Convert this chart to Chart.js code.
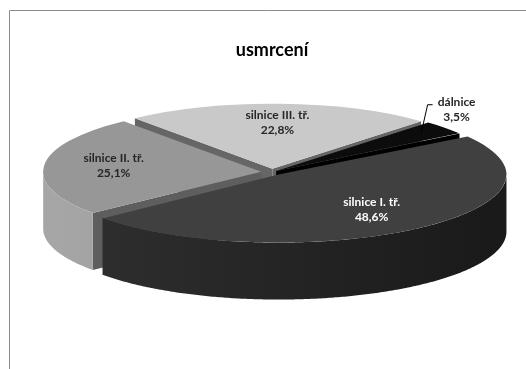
<!DOCTYPE html>
<html lang="cs">
<head>
<meta charset="UTF-8" />
<title>usmrcení</title>
<style>
  html, body { margin: 0; padding: 0; background: #ffffff; }
  #wrap { width: 526px; height: 369px; }
</style>
<script src="https://cdn.jsdelivr.net/npm/chart.js"></script>
</head>
<body>
<div id="wrap"><canvas id="pie" width="526" height="369"></canvas></div>
<script>
// data
const categories = ["dálnice", "silnice I. tř.", "silnice II. tř.", "silnice III. tř."];
const shares = [3.5, 48.6, 25.1, 22.8];

// greys for top face, outer wall (left -> right), cut faces and label text
const topColors = ["#0c0c0c", "#404040", "#979797", "#c9c9c9"];
const wallColors = [["#1c1c1c", "#050505"], ["#303030", "#1a1a1a"], ["#a6a6a6", "#8c8c8c"], ["#bdbdbd", "#a8a8a8"]];
const sideColors = ["#000000", "#262626", "#5e5e5e", "#666666"];
const labelColors = ["#262626", "#ffffff", "#262626", "#262626"];
const explode = [14, 28, 28, 28];

// where the flattened 3d pie sits on the page
const PIE = { cx: 272, cy: 172, rx: 218, ry: 65, depth: 57 };

function fmtPct(v) {
  return v.toFixed(1).replace(".", ",") + "%";
}

// map a slice (as laid out by chart.js) onto the squashed page ellipse
function sliceGeom(chart, arc) {
  const first = chart.getDatasetMeta(0).data[0];
  const sx = PIE.rx / first.outerRadius;
  const sy = PIE.ry / first.outerRadius;
  const off = (arc.options.offset || 0) / 4;
  const half = (arc.startAngle + arc.endAngle) / 2;
  const circ = arc.endAngle - arc.startAngle;
  const r = arc.outerRadius + off * (1 - Math.sin(Math.min(Math.PI, circ)));
  const ox = arc.x + Math.cos(half) * off;
  const oy = arc.y + Math.sin(half) * off;
  const at = (t, rr) => [
    PIE.cx + (ox + rr * Math.cos(t) - first.x) * sx,
    PIE.cy + (oy + rr * Math.sin(t) - first.y) * sy
  ];
  return { at, r, half, s: arc.startAngle, e: arc.endAngle };
}

const frame = {
  id: "frame",
  beforeDraw(chart) {
    const ctx = chart.ctx;
    ctx.save();
    ctx.strokeStyle = "#8c8c8c";
    ctx.lineWidth = 1;
    ctx.beginPath();
    ctx.moveTo(9.5, chart.height);
    ctx.lineTo(9.5, 10.5);
    ctx.lineTo(chart.width, 10.5);
    ctx.stroke();
    ctx.restore();
  }
};

// side walls and cut faces, drawn back to front before the top faces
const depth = {
  id: "depth",
  beforeDatasetsDraw(chart) {
    const ctx = chart.ctx;
    const d = PIE.depth;
    const items = chart.getDatasetMeta(0).data.map((arc, i) => ({ i, g: sliceGeom(chart, arc) }));
    items.sort((a, b) => Math.sin(a.g.half) - Math.sin(b.g.half));
    ctx.save();
    items.forEach(({ i, g }) => {
      const faces = [];
      if (Math.cos(g.s) < 0) faces.push(g.s);
      if (Math.cos(g.e) > 0) faces.push(g.e);
      faces.forEach(t => {
        const c = g.at(t, 0);
        const p = g.at(t, g.r);
        ctx.beginPath();
        ctx.moveTo(c[0], c[1]);
        ctx.lineTo(p[0], p[1]);
        ctx.lineTo(p[0], p[1] + d);
        ctx.lineTo(c[0], c[1] + d);
        ctx.closePath();
        ctx.fillStyle = sideColors[i];
        ctx.fill();
      });
      const TAU = Math.PI * 2;
      for (let k = Math.floor(g.s / TAU) - 1; k <= Math.ceil(g.e / TAU); k++) {
        const a1 = Math.max(g.s, k * TAU);
        const a2 = Math.min(g.e, k * TAU + Math.PI);
        if (a2 <= a1) continue;
        const n = Math.max(2, Math.ceil((a2 - a1) / 0.01));
        const top = [];
        for (let j = 0; j <= n; j++) top.push(g.at(a1 + (a2 - a1) * j / n, g.r));
        ctx.beginPath();
        top.forEach((p, j) => (j ? ctx.lineTo(p[0], p[1]) : ctx.moveTo(p[0], p[1])));
        for (let j = top.length - 1; j >= 0; j--) ctx.lineTo(top[j][0], top[j][1] + d);
        ctx.closePath();
        const grad = ctx.createLinearGradient(PIE.cx - PIE.rx, 0, PIE.cx + PIE.rx, 0);
        grad.addColorStop(0, wallColors[i][0]);
        grad.addColorStop(1, wallColors[i][1]);
        ctx.fillStyle = grad;
        ctx.fill();
      }
    });
    ctx.restore();
  }
};

// squash the pie chart.js draws into the page ellipse
const squash = {
  id: "squash",
  beforeDatasetDraw(chart) {
    const ctx = chart.ctx;
    const first = chart.getDatasetMeta(0).data[0];
    ctx.save();
    ctx.translate(PIE.cx, PIE.cy);
    ctx.scale(PIE.rx / first.outerRadius, PIE.ry / first.outerRadius);
    ctx.translate(-first.x, -first.y);
  },
  afterDatasetDraw(chart) {
    chart.ctx.restore();
  }
};

const sliceLabels = {
  id: "sliceLabels",
  afterDatasetsDraw(chart) {
    const ctx = chart.ctx;
    ctx.save();
    ctx.font = "bold 12px Lato";
    ctx.textAlign = "center";
    ctx.textBaseline = "middle";
    chart.getDatasetMeta(0).data.forEach((arc, i) => {
      const g = sliceGeom(chart, arc);
      ctx.fillStyle = labelColors[i];
      if (shares[i] < 5) {
        const edge = g.at(g.half, g.r);
        const lx = edge[0] + 12, ly = edge[1] - 19;
        const st = g.at(g.half, g.r * 0.86);
        ctx.strokeStyle = "#000000";
        ctx.lineWidth = 1;
        ctx.beginPath();
        ctx.moveTo(st[0], st[1]);
        ctx.lineTo(lx - 29, ly - 4);
        ctx.lineTo(lx - 24, ly - 4);
        ctx.stroke();
        ctx.fillText(categories[i], lx, ly - 7);
        ctx.fillText(fmtPct(shares[i]), lx, ly + 8);
      } else {
        const p = g.at(g.half, g.r * 0.68);
        ctx.fillText(categories[i], p[0], p[1] - 9);
        ctx.fillText(fmtPct(shares[i]), p[0], p[1] + 6);
      }
    });
    ctx.restore();
  }
};

new Chart(document.getElementById("pie"), {
  type: "pie",
  data: {
    labels: categories,
    datasets: [{
      data: shares,
      backgroundColor: topColors,
      borderWidth: 0,
      offset: explode,
      clip: false
    }]
  },
  options: {
    responsive: false,
    animation: false,
    events: [],
    rotation: 43,
    layout: { padding: { left: 18 } },
    plugins: {
      legend: { display: false },
      tooltip: { enabled: false },
      title: {
        display: true,
        text: "usmrcení",
        color: "#000000",
        font: { family: "Lato", size: 18, weight: "bold" },
        padding: { top: 39, bottom: 0 }
      }
    }
  },
  plugins: [frame, depth, squash, sliceLabels]
});
</script>
</body>
</html>
